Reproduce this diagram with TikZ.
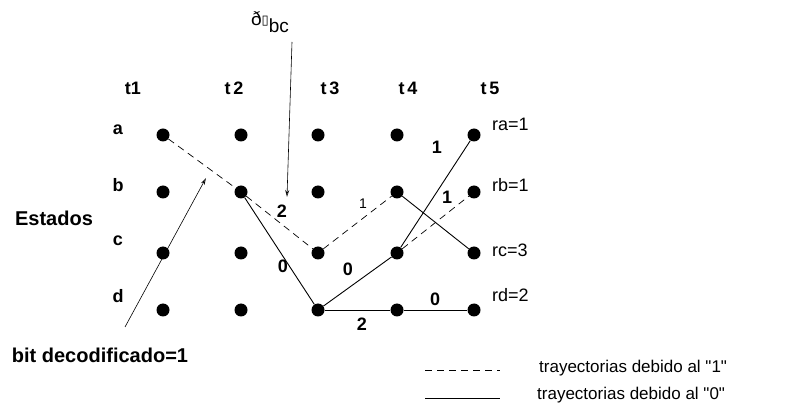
\documentclass[tikz,border=0pt]{standalone}
\usepackage{fontspec}
\setmainfont{Liberation Sans}
\newfontfamily\symfont{DejaVu Sans}
\usetikzlibrary{arrows.meta}
\begin{document}
\begin{tikzpicture}[x=1pt,y=-1pt,
  state/.style={circle,fill=black,inner sep=0pt,minimum size=13pt},
  lbl/.style={font=\fontsize{18}{20}\selectfont\bfseries,inner sep=1pt},
  axlbl/.style={font=\fontsize{18}{20}\selectfont\bfseries,inner sep=1pt},
  rlbl/.style={font=\fontsize{18}{20}\selectfont,anchor=west,inner sep=1pt},
  wlbl/.style={font=\fontsize{20}{22}\selectfont\bfseries,inner sep=1pt},
  small/.style={font=\fontsize{14}{16}\selectfont,inner sep=1pt},
  legtxt/.style={font=\fontsize{17}{19}\selectfont,anchor=west,inner sep=1pt},
  one/.style={dash pattern=on 7pt off 5pt,line width=0.7pt},
  zero/.style={line width=0.9pt},
  pointer/.style={line width=0.6pt,-{Stealth[length=7pt,width=4pt,open]}}]
\useasboundingbox (0,0) rectangle (795,411);

% trellis states: columns t1..t5, rows a..d
\foreach \c/\x in {1/163,2/241,3/318,4/397,5/474}{
  \foreach \r/\y in {a/135,b/192,c/253,d/310}{
    \node[state] (\r\c) at (\x,\y) {};
  }
}

% time labels
\node[axlbl] (tl1) at (133,88) {t1};
\node[axlbl] (tl2) at (234,88) {t\,2};
\node[axlbl] (tl3) at (330,88) {t\,3};
\node[axlbl] (tl4) at (408,88) {t\,4};
\node[axlbl] (tl5) at (490,88) {t\,5};

% state labels
\node[axlbl] (la) at (118,130) {a};
\node[axlbl] (lb) at (118,185) {b};
\node[axlbl] (lc) at (118,241) {c};
\node[axlbl] (ld) at (118,296) {d};
\node[wlbl] (est) at (54,218) {Estados};

% final metrics
\node[rlbl] (ra) at (491,124) {ra=1};
\node[rlbl] (rb) at (491,185) {rb=1};
\node[rlbl] (rc) at (491,250) {rc=3};
\node[rlbl] (rd) at (491,295) {rd=2};

% paths caused by input "1"
\draw[one] (a1) -- (b2) -- (c3) -- (b4);
\draw[one] (c4) -- (b5);

% paths caused by input "0"
\draw[zero] (b2) -- (d3) -- (c4) -- (a5);
\draw[zero] (b4) -- (c5);
\draw[zero] (d3) -- (d4) -- (d5);

% branch metrics
\node[lbl] (m1) at (282,211) {2};
\node[small] (m2) at (363,204) {1};
\node[lbl] (m3) at (283,266) {0};
\node[lbl] (m4) at (348,269) {0};
\node[lbl] (m5) at (437,147) {1};
\node[lbl] (m6) at (447,197) {1};
\node[lbl] (m7) at (362,324) {2};
\node[lbl] (m8) at (435,299) {0};

% metric pointer
\node[font=\fontsize{19}{21}\selectfont,inner sep=1pt] (delta) at (270,22)
  {ð\raisebox{1pt}{\symfont\fontsize{13}{14}\selectfont ▯}\raisebox{-7pt}{bc}};
\coordinate (dtop) at (292,42);
\coordinate (dtip) at (287,197);
\draw[pointer] (dtop) -- (dtip);

% decoded bit pointer
\node[wlbl] (bit) at (100,355) {bit decodificado=1};
\coordinate (btail) at (125,327);
\coordinate (btip) at (206,178);
\draw[pointer] (btail) -- (btip);

% legend
\coordinate (l1a) at (425,370);
\coordinate (l1b) at (500,370);
\coordinate (l2a) at (425,398);
\coordinate (l2b) at (500,398);
\draw[one] (l1a) -- (l1b);
\draw[zero] (l2a) -- (l2b);
\node[legtxt] (leg1) at (538,368) {trayectorias debido al \textquotedbl 1\textquotedbl};
\node[legtxt] (leg0) at (536,395) {trayectorias debido al \textquotedbl 0\textquotedbl};
\end{tikzpicture}
\end{document}
